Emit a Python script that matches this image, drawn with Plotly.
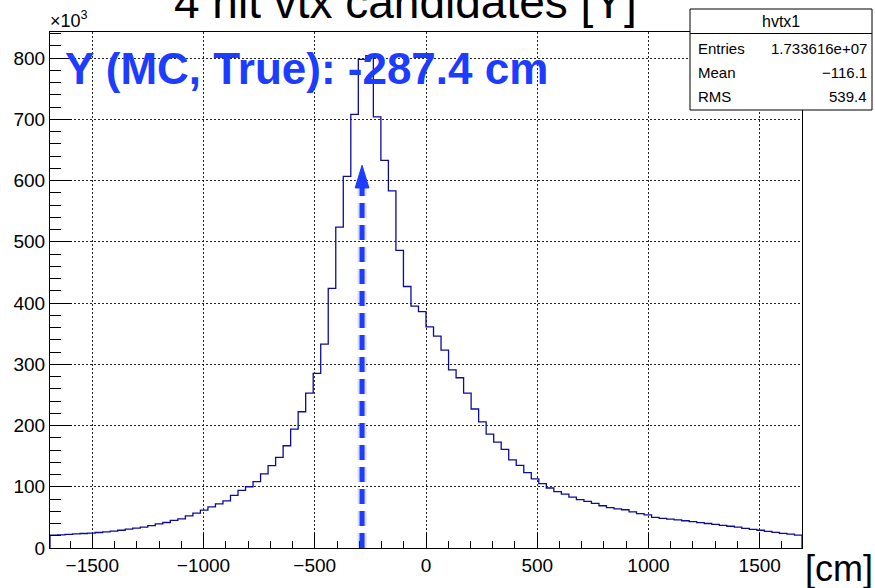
import numpy as np
import plotly.graph_objects as go

# Histogram definition: 100 bins over [-1690, 1690] cm
x_min, x_max, n_bins = -1690.0, 1690.0, 100

# Bin contents in units of 10^3 entries
counts_k = [
    21.0, 21.5, 22.3, 23.0, 23.7, 24.3, 25.3, 26.4, 27.5, 29.0,
    30.8, 32.5, 34.0, 36.7, 39.5, 41.6, 45.0, 47.6, 52.5, 57.0,
    62.0, 67.0, 72.0, 77.0, 86.0, 94.0, 100.0, 108.5, 121.0, 134.5,
    148.0, 167.0, 194.0, 222.5, 253.0, 285.0, 333.0, 424.0, 524.0, 607.0,
    708.0, 798.0, 804.0, 704.0, 633.0, 583.0, 486.0, 427.0, 395.0, 386.0,
    361.0, 346.0, 323.0, 291.0, 278.0, 253.0, 227.0, 206.0, 186.0, 173.0,
    161.0, 144.0, 135.0, 123.0, 113.0, 105.0, 98.0, 92.0, 88.0, 83.0,
    79.0, 76.0, 73.0, 69.0, 66.0, 64.0, 62.5, 59.0, 56.0, 54.0,
    50.0, 48.5, 47.0, 46.0, 44.5, 43.0, 41.5, 40.0, 38.5, 37.0,
    35.5, 34.0, 32.0, 30.5, 29.0, 27.0, 25.5, 24.0, 22.5, 21.0,
]

# Stats box contents
hist_name = "hvtx1"
stats_labels = ["Entries", "Mean", "RMS"]
stats_values = ["1.733616e+07", "\u2212116.1", "539.4"]

# True MC vertex position marked by the arrow
true_y_cm = -287.4
arrow_tip_k = 625.0

title_text = "4 hit vtx candidates [Y]"
label_text = "Y (MC, True): %.1f cm" % true_y_cm

# Axis tick values
x_ticks = [-1500, -1000, -500, 0, 500, 1000, 1500]
y_ticks = [0, 100, 200, 300, 400, 500, 600, 700, 800]

edges = np.linspace(x_min, x_max, n_bins + 1)
xs = [edges[0]] + list(edges) + [edges[-1]]
ys = [0.0] + list(counts_k) + [counts_k[-1], 0.0]

W, H = 875, 588
ML, MR, MT, MB = 50, 73, 32, 40
PW, PH = W - ML - MR, H - MT - MB


def px(xp):
    return (xp - ML) / PW


def py(yp):
    return (H - MB - yp) / PH


FONT = "Liberation Sans, Arial, Helvetica, sans-serif"
BLUE = "#1c3cff"
LINE = "#0c0c9c"

fig = go.Figure()
fig.add_trace(go.Scatter(
    x=xs, y=ys, mode="lines", line=dict(color=LINE, width=1.3, shape="hv"),
    hoverinfo="skip", showlegend=False,
))

y_top = max(counts_k) * 1.048

# Arrow: soft halo, dashed shaft and triangular head
head_len_k = 37.0
head_half_w = 31.0
fig.add_shape(type="line", xref="x", yref="y", x0=true_y_cm, x1=true_y_cm,
              y0=0, y1=arrow_tip_k - head_len_k,
              line=dict(color="rgba(60,60,120,0.18)", width=9, dash="15px,7px"))
fig.add_shape(type="line", xref="x", yref="y", x0=true_y_cm, x1=true_y_cm,
              y0=0, y1=arrow_tip_k - head_len_k,
              line=dict(color=BLUE, width=5, dash="15px,7px"))
fig.add_shape(type="path", xref="x", yref="y",
              path="M %f %f L %f %f L %f %f Z" % (
                  true_y_cm - head_half_w, arrow_tip_k - head_len_k,
                  true_y_cm, arrow_tip_k,
                  true_y_cm + head_half_w, arrow_tip_k - head_len_k),
              fillcolor=BLUE, line=dict(color=BLUE, width=1))

# Stats box
bx0, bx1, by0, by1, bsep = 690, 872, 9, 110, 33.5
fig.add_shape(type="rect", xref="paper", yref="paper",
              x0=px(bx0), x1=px(bx1), y0=py(by1), y1=py(by0),
              fillcolor="white", line=dict(color="black", width=1), layer="above")
fig.add_shape(type="line", xref="paper", yref="paper",
              x0=px(bx0), x1=px(bx1), y0=py(bsep), y1=py(bsep),
              line=dict(color="black", width=1), layer="above")

annotations = [
    dict(text=hist_name, x=px((bx0 + bx1) / 2), y=py(21.5), xanchor="center",
         yanchor="middle", font=dict(size=16, color="black", family=FONT)),
]
for lab, val, yc in zip(stats_labels, stats_values, [48, 72, 96]):
    annotations.append(dict(text=lab, x=px(696), y=py(yc), xanchor="left",
                            yanchor="middle", font=dict(size=15, color="black", family=FONT)))
    annotations.append(dict(text=val, x=px(869), y=py(yc), xanchor="right",
                            yanchor="middle", font=dict(size=15, color="black", family=FONT)))

annotations += [
    dict(text=title_text, x=px(405), y=py(2), xanchor="center", yanchor="middle",
         font=dict(size=46, color="black", family=FONT)),
    dict(text="<b>%s</b>" % label_text, x=px(63), y=py(68), xanchor="left",
         yanchor="middle", font=dict(size=44, color=BLUE, family=FONT)),
    dict(text="[cm]", x=px(875), y=py(568), xanchor="right", yanchor="middle",
         font=dict(size=36, color="black", family=FONT)),
    dict(text="\u00d710<sup>3</sup>", x=px(48), y=py(20), xanchor="left",
         yanchor="middle", font=dict(size=18, color="black", family=FONT)),
]
for a in annotations:
    a.update(xref="paper", yref="paper", showarrow=False)

grid_dash = "1.5px,2.5px"
fig.update_layout(
    width=W, height=H,
    margin=dict(l=ML, r=MR, t=MT, b=MB, pad=0),
    paper_bgcolor="white", plot_bgcolor="white",
    annotations=annotations,
    font=dict(family=FONT, color="black"),
    xaxis=dict(
        range=[x_min, x_max], tickvals=x_ticks, ticks="inside", ticklen=15,
        tickwidth=1, tickcolor="black", showline=True, linecolor="black",
        linewidth=1, mirror=True, showgrid=True, gridcolor="#222",
        griddash=grid_dash, gridwidth=1, zeroline=False,
        tickfont=dict(size=19, family=FONT),
        minor=dict(dtick=100, ticks="inside", ticklen=7.5, tickcolor="black",
                   showgrid=False),
    ),
    yaxis=dict(
        range=[0, y_top], tickvals=y_ticks, ticks="inside", ticklen=22,
        tickwidth=1, tickcolor="black", showline=True, linecolor="black",
        linewidth=1, mirror=True, showgrid=True, gridcolor="#222",
        griddash=grid_dash, gridwidth=1, zeroline=False,
        tickfont=dict(size=19, family=FONT),
        minor=dict(dtick=20, ticks="inside", ticklen=11, tickcolor="black",
                   showgrid=False),
    ),
)

fig.write_html("out.html")
